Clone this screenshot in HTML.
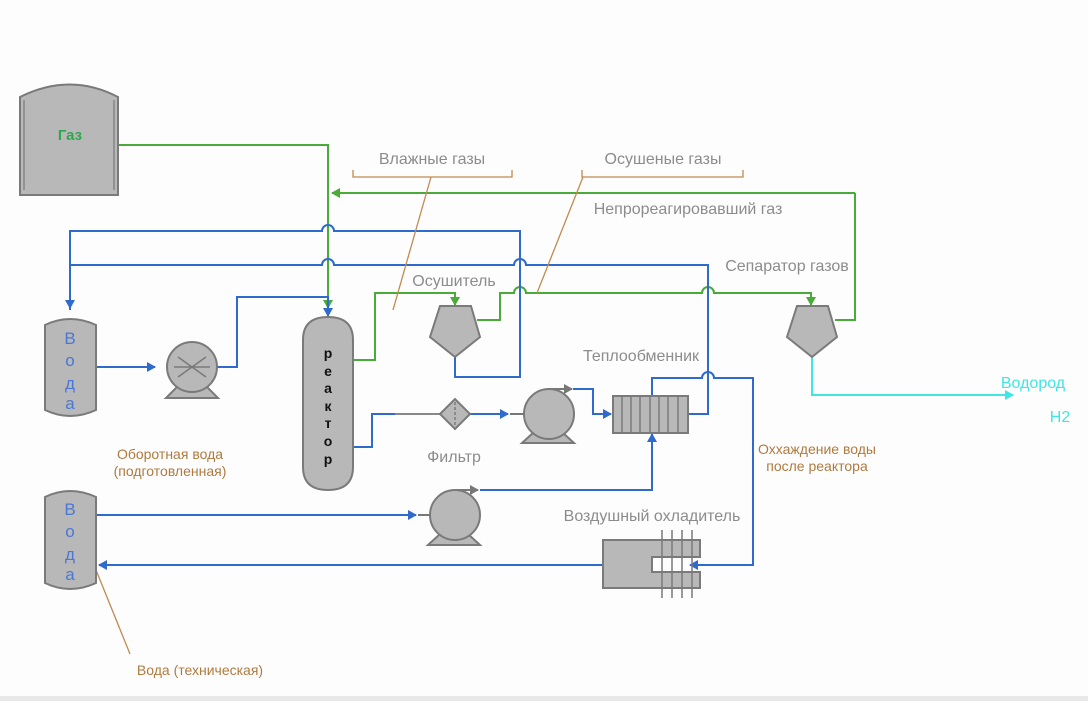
<!DOCTYPE html>
<html><head><meta charset="utf-8"><style>
html,body{margin:0;padding:0;background:#fdfdfd;}
svg{display:block}
text{font-family:"Liberation Sans","DejaVu Sans",sans-serif;}
</style></head><body>
<svg width="1088" height="701" viewBox="0 0 1088 701" xmlns="http://www.w3.org/2000/svg">
<defs>
<marker id="ab" markerWidth="10" markerHeight="10" refX="8" refY="5" orient="auto" markerUnits="userSpaceOnUse"><path d="M0,0 L9,5 L0,10 z" fill="#2f6bcc"/></marker>
<marker id="ag" markerWidth="10" markerHeight="10" refX="8" refY="5" orient="auto" markerUnits="userSpaceOnUse"><path d="M0,0 L9,5 L0,10 z" fill="#4aaa3a"/></marker>
<marker id="ac" markerWidth="10" markerHeight="10" refX="8" refY="5" orient="auto" markerUnits="userSpaceOnUse"><path d="M0,0 L9,5 L0,10 z" fill="#3ee6e6"/></marker>
<marker id="ay" markerWidth="10" markerHeight="10" refX="8" refY="5" orient="auto" markerUnits="userSpaceOnUse"><path d="M0,0 L9,5 L0,10 z" fill="#777"/></marker>
</defs>
<rect x="0" y="696" width="1088" height="5" fill="#e8e8e8"/>
<g fill="none" stroke-width="2">
<path d="M118,145 H328 V308" stroke="#4aaa3a" marker-end="url(#ag)"/>
<path d="M855,193 H332" stroke="#4aaa3a" marker-end="url(#ag)"/>
<path d="M835,320 H855 V193" stroke="#4aaa3a"/>
<path d="M353,360 H375 V293 H455 V305" stroke="#4aaa3a" marker-end="url(#ag)"/>
<path d="M477,320 H500 V293 H514 a6,6 0 0 1 12,0 H702 a6,6 0 0 1 12,0 H811 V305" stroke="#4aaa3a" marker-end="url(#ag)"/>
<path d="M70,310 V231 H322 a6,6 0 0 1 12,0 H520 V377 H455 V355" stroke="#2f6bcc"/>
<path d="M70,231 V308" stroke="#2f6bcc" marker-end="url(#ab)"/>
<path d="M70,265 H322 a6,6 0 0 1 12,0 H514 a6,6 0 0 1 12,0 H708 V414 H688" stroke="#2f6bcc"/>
<path d="M96,367 H155" stroke="#2f6bcc" marker-end="url(#ab)"/>
<path d="M217,367 H237 V297 H328 V316" stroke="#2f6bcc" marker-end="url(#ab)"/>
<path d="M353,447 H372 V414 H395" stroke="#2f6bcc"/>
<path d="M470,414 H508" stroke="#2f6bcc" marker-end="url(#ab)"/>
<path d="M573,389 H593 V414 H611" stroke="#2f6bcc" marker-end="url(#ab)"/>
<path d="M480,490 H652 V434" stroke="#2f6bcc" marker-end="url(#ab)"/>
<path d="M96,515 H416" stroke="#2f6bcc" marker-end="url(#ab)"/>
<path d="M652,395 V378 H702 a6,6 0 0 1 12,0 H753 V565 H690" stroke="#2f6bcc" marker-end="url(#ab)"/>
<path d="M603,565 H99" stroke="#2f6bcc" marker-end="url(#ab)"/>
<path d="M395,414 H440" stroke="#888"/>
<path d="M510,414 H555" stroke="#777" marker-end="url(#ay)"/>
<path d="M548,389 H572" stroke="#777" marker-end="url(#ay)"/>
<path d="M418,515 H462" stroke="#777" marker-end="url(#ay)"/>
<path d="M455,490 H478" stroke="#777" marker-end="url(#ay)"/>
<path d="M812,355 V395 H1013" stroke="#3ee6e6" marker-end="url(#ac)"/>
<path d="M353,170 V177 H512 V170 M431,177 L393,310" stroke="#c08a50" stroke-width="1.3"/>
<path d="M582,170 V177 H743 V170 M583,177 L537,293" stroke="#c08a50" stroke-width="1.3"/>
<path d="M96,570 L130,654" stroke="#c08a50" stroke-width="1.3"/>
</g>
<g fill="#b8b8b8" stroke="#7a7a7a" stroke-width="2">
<path d="M20,97 Q70,72 118,97 V195 H20 Z"/>
<path d="M45,325 Q70,313 96,325 V410 Q70,422 45,410 Z"/>
<path d="M45,497 Q70,485 96,497 V583 Q70,595 45,583 Z"/>
<path d="M303,340 Q303,317 328,317 Q353,317 353,340 V467 Q353,490 328,490 Q303,490 303,467 Z"/>
<path d="M166,398 L178,386 H206 L218,398 Z"/>
<circle cx="192" cy="367" r="25"/>
<path d="M522,443 L534,432 H562 L574,443 Z"/>
<circle cx="549" cy="414" r="25"/>
<path d="M428,545 L440,534 H468 L480,545 Z"/>
<circle cx="455" cy="515" r="25"/>
<path d="M440,414 L455,399 L470,414 L455,429 Z"/>
<path d="M440,306 H471 L480,337 L455,357 L430,337 Z"/>
<path d="M797,306 H828 L837,337 L812,357 L787,337 Z"/>
<rect x="613" y="396" width="75" height="37"/>
<path d="M603,540 H700 V557 H652 V572 H700 V588 H603 Z"/>
</g>
<g stroke="#7a7a7a" stroke-width="1.5" fill="none">
<path d="M24,100 V190 M114,100 V190" stroke-width="1.2"/>
<path d="M178,357 L206,377 M178,377 L206,357 M174,367 H210"/>
<path d="M455,402 V426" stroke-dasharray="3,2"/>
<path d="M622,396 V433 M631,396 V433 M640,396 V433 M650,396 V433 M659,396 V433 M668,396 V433 M678,396 V433"/>
<path d="M662,530 V598 M672,530 V598 M682,530 V598 M692,530 V598"/>
</g>
<text x="70" y="140" font-size="15" fill="#2ea84a" text-anchor="middle" font-weight="bold">Газ</text>
<g font-size="17" fill="#4a78d4" text-anchor="middle">
<text x="70" y="344">В</text><text x="70" y="366">о</text><text x="70" y="389">д</text><text x="70" y="409">а</text>
<text x="70" y="515">В</text><text x="70" y="537">о</text><text x="70" y="560">д</text><text x="70" y="580">а</text>
</g>
<g font-size="14" fill="#111" text-anchor="middle" font-weight="bold">
<text x="328" y="358">р</text><text x="328" y="376">е</text><text x="328" y="393">а</text><text x="328" y="411">к</text><text x="328" y="428">т</text><text x="328" y="446">о</text><text x="328" y="464">р</text>
</g>
<g font-size="16" fill="#8c8c8c" text-anchor="middle">
<text x="432" y="164">Влажные газы</text>
<text x="663" y="164">Осушеные газы</text>
<text x="688" y="214">Непрореагировавший газ</text>
<text x="787" y="271">Сепаратор газов</text>
<text x="454" y="286">Осушитель</text>
<text x="641" y="361">Теплообменник</text>
<text x="454" y="462">Фильтр</text>
<text x="652" y="521">Воздушный охладитель</text>
</g>
<g font-size="14" fill="#b07a3e" text-anchor="middle">
<text x="170" y="459">Оборотная вода</text>
<text x="170" y="476">(подготовленная)</text>
<text x="817" y="454">Оххаждение воды</text>
<text x="817" y="471">после реактора</text>
<text x="200" y="675">Вода (техническая)</text>
</g>
<text x="1033" y="388" font-size="16" fill="#3ee6e6" text-anchor="middle">Водород</text>
<text x="1060" y="422" font-size="16" fill="#3ee6e6" text-anchor="middle">H2</text>
</svg>
</body></html>
